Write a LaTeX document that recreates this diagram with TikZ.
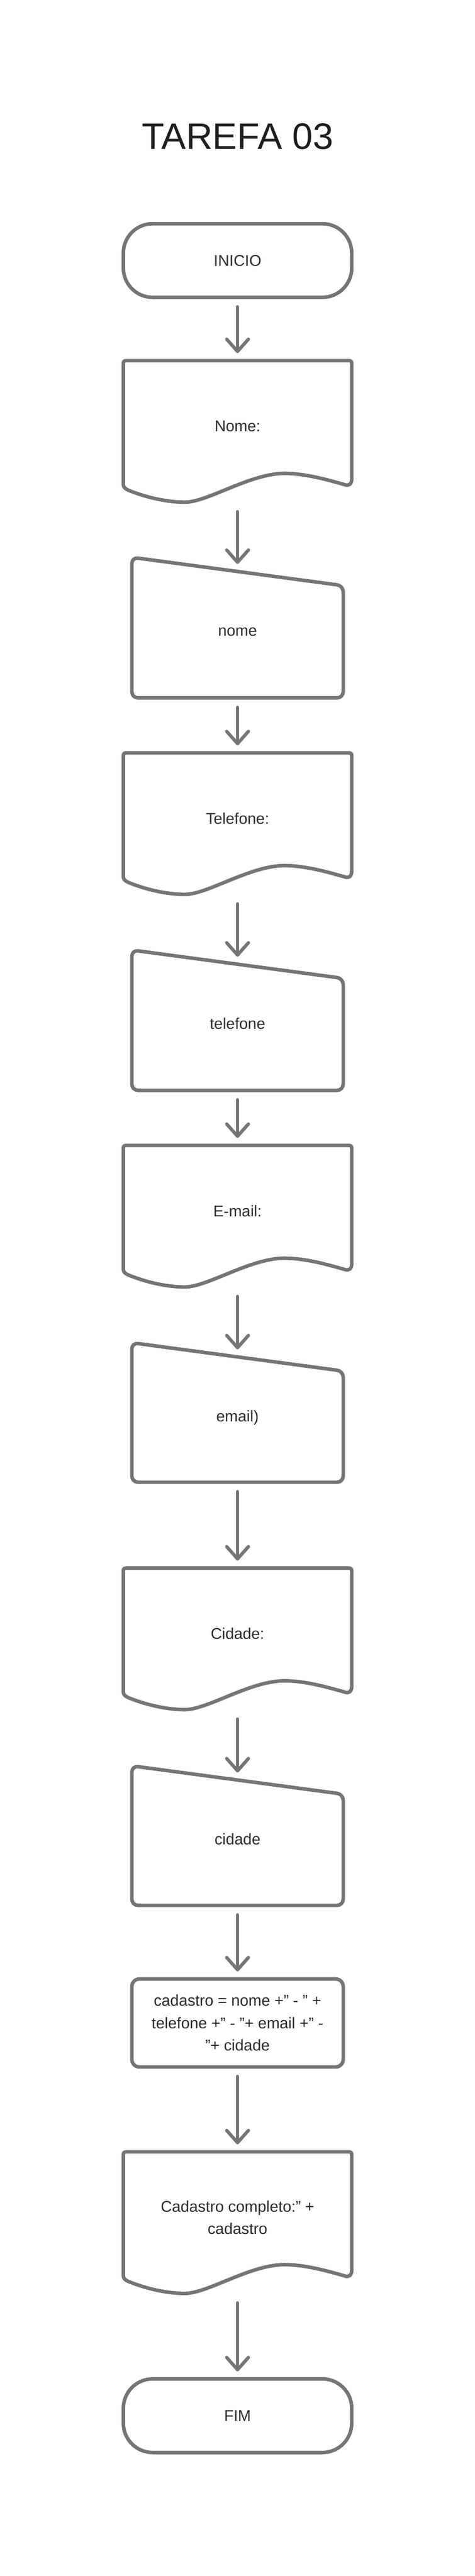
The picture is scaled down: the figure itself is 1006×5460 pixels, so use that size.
\documentclass[tikz,border=0pt]{standalone}
\usepackage{fontspec}
\setmainfont{Liberation Sans}
\usetikzlibrary{arrows.meta,fit}
\definecolor{strk}{HTML}{757575}
\definecolor{ink}{HTML}{2C2C2C}
\definecolor{ttl}{HTML}{1E1E1E}
\tikzset{
  shp/.style={draw=strk, line width=7.5pt, line join=round, line cap=round},
  arr/.style={draw=strk, line width=7pt, line cap=round,
    -{Straight Barb[length=26pt,width=46pt,round]},
    shorten <=20pt, shorten >=16pt},
  bodyfont/.style={text=ink, font=\fontsize{33}{47.5}\selectfont},
  txt/.style={bodyfont, inner sep=0pt, outer sep=0pt},
  termbox/.style={shp, bodyfont, rectangle, rounded corners=62pt,
    minimum width=484pt, minimum height=156pt, inner sep=0pt, outer sep=0pt},
  procbox/.style={shp, bodyfont, rectangle, rounded corners=16pt, align=center,
    minimum width=448pt, minimum height=186.5pt, inner sep=0pt, outer sep=0pt},
  ghost/.style={inner sep=0pt, outer sep=0pt, draw=none},
}
% document shape: #1 name, #2 top y, #3 text
\newcommand\docshape[3]{%
  \draw[shp] (261.5,#2+262) -- (261.5,#2+10) .. controls (261.5,#2) .. (271.5,#2)
    -- (735.5,#2) .. controls (745.5,#2) .. (745.5,#2+10)
    -- (745.5,#2+251) .. controls (745.5,#2+262) and (739,#2+266) .. (731,#2+263)
    .. controls (691,#2+251.5) and (645,#2+239) .. (603,#2+239)
    .. controls (530,#2+239) and (440,#2+300) .. (392,#2+300)
    .. controls (350,#2+300) and (305,#2+288) .. (273,#2+275)
    .. controls (264,#2+271) and (261.5,#2+268) .. (261.5,#2+262) -- cycle;
  \node[ghost, fit={(261.5,#2) (745.5,#2+300)}] (#1) {};
  \node[txt, align=center, anchor=center] (#1t) at (503.5,#2+139) {#3};
}
% manual input shape: #1 name, #2 top-left y, #3 bottom y, #4 text
\newcommand\inshape[4]{%
  \draw[shp, rounded corners=13pt] (279.5,#3-120) -- (279.5,#2) -- (727.5,#2+60)
    -- (727.5,#3) -- (279.5,#3) -- cycle;
  \node[ghost, fit={(279.5,#2+30) (727.5,#3)}] (#1) {};
  \node[txt, anchor=base] (#1t) at (503.5,#2+167) {#4};
}
\begin{document}
\begin{tikzpicture}[x=1pt,y=-1pt]
  \useasboundingbox (0,0) rectangle (1006,5460);
  \fill[white] (0,0) rectangle (1006,5460);

  \node[anchor=base, text=ttl, font=\fontsize{78}{90}\selectfont, inner sep=0pt]
    (title) at (503.5,316) {TAREFA 03};

  \node[termbox] (inicio) at (503.5,552.2) {INICIO};
  \docshape{d1}{764.4}{Nome:}
  \inshape{i1}{1181.3}{1479.2}{nome}
  \docshape{d2}{1595.7}{Telefone:}
  \inshape{i2}{2013.7}{2311}{telefone}
  \docshape{d3}{2427.8}{E-mail:}
  \inshape{i3}{2846}{3141.6}{email)}
  \docshape{d4}{3323.6}{Cidade:}
  \inshape{i4}{3742.8}{4038.5}{cidade}
  \node[procbox] (proc) at (503.5,4287.75)
    {cadastro = nome +" - " +\\telefone +" - "+ email +" -\\"+ cidade};
  \docshape{d5}{4561}{Cadastro completo:" +\\cadastro}
  \node[termbox] (fim) at (503.5,5120.2) {FIM};

  \draw[arr] (inicio.south) -- (d1.north);
  \draw[arr] (d1.south) -- (i1.north);
  \draw[arr] (i1.south) -- (d2.north);
  \draw[arr] (d2.south) -- (i2.north);
  \draw[arr] (i2.south) -- (d3.north);
  \draw[arr] (d3.south) -- (i3.north);
  \draw[arr] (i3.south) -- (d4.north);
  \draw[arr] (d4.south) -- (i4.north);
  \draw[arr] (i4.south) -- (proc.north);
  \draw[arr] (proc.south) -- (d5.north);
  \draw[arr] (d5.south) -- (fim.north);
\end{tikzpicture}
\end{document}
